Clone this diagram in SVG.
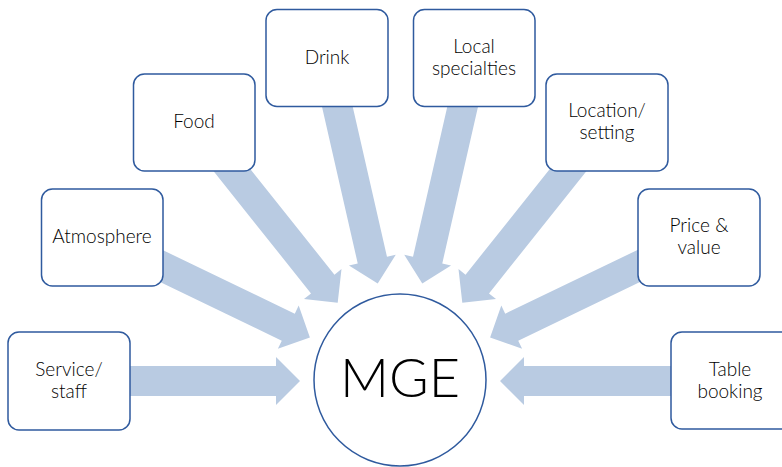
<svg xmlns="http://www.w3.org/2000/svg" width="782" height="467" viewBox="0 0 782 467">
<defs>
<style>
.box{fill:#fff;stroke:#2F5A9E;stroke-width:1.5}
.hub{fill:#fff;stroke:#2F5A9E;stroke-width:1.5}
.arr{fill:#B9CBE2}
.t{font-family:Lato,"Open Sans","Liberation Sans",sans-serif;font-weight:300;font-size:19px;fill:#000;text-anchor:middle}
.big{font-family:Lato,"Open Sans","Liberation Sans",sans-serif;font-weight:300;font-size:54px;fill:#000;text-anchor:middle}
</style>
<path id="ar" class="arr" d="M-200,-15 L-24,-15 L-24,-24 L0,0 L-24,24 L-24,15 L-200,15 Z"/>
</defs>
<rect width="782" height="467" fill="#fff"/>
<g id="connectors">
<use href="#ar" transform="translate(300,381) rotate(0)"/>
<use href="#ar" transform="translate(309.9,337.6) rotate(25.714)"/>
<use href="#ar" transform="translate(337.7,302.8) rotate(51.429)"/>
<use href="#ar" transform="translate(377.7,283.5) rotate(77.143)"/>
<use href="#ar" transform="translate(422.3,283.5) rotate(102.857)"/>
<use href="#ar" transform="translate(462.3,302.8) rotate(128.571)"/>
<use href="#ar" transform="translate(490.1,337.6) rotate(154.286)"/>
<use href="#ar" transform="translate(500,381) rotate(180)"/>
</g>
<g id="service">
<rect class="box" x="8" y="332" width="122" height="98" rx="11"/>
<text class="t" x="69" y="376">Service/</text>
<text class="t" x="69" y="398">staff</text>
</g>
<g id="atmosphere">
<rect class="box" x="41.5" y="189" width="121.5" height="97" rx="11"/>
<text class="t" x="102" y="243">Atmosphere</text>
</g>
<g id="food">
<rect class="box" x="133.5" y="74" width="121.5" height="97" rx="11"/>
<text class="t" x="194" y="128">Food</text>
</g>
<g id="drink">
<rect class="box" x="266" y="9.5" width="122" height="97" rx="11"/>
<text class="t" x="327" y="64">Drink</text>
</g>
<g id="local">
<rect class="box" x="413.5" y="9.5" width="121.5" height="97" rx="11"/>
<text class="t" x="474" y="53">Local</text>
<text class="t" x="474" y="75">specialties</text>
</g>
<g id="location">
<rect class="box" x="546" y="74" width="122" height="97" rx="11"/>
<text class="t" x="607" y="117">Location/</text>
<text class="t" x="607" y="139">setting</text>
</g>
<g id="price">
<rect class="box" x="638" y="189" width="122" height="97" rx="11"/>
<text class="t" x="699" y="232">Price &amp;</text>
<text class="t" x="699" y="254">value</text>
</g>
<g id="table">
<rect class="box" x="671" y="332" width="122" height="97" rx="11"/>
<text class="t" x="730" y="376">Table</text>
<text class="t" x="730" y="398">booking</text>
</g>
<g id="mge">
<circle class="hub" cx="400" cy="380" r="86"/>
<text class="big" x="400" y="397">MGE</text>
</g>
</svg>
